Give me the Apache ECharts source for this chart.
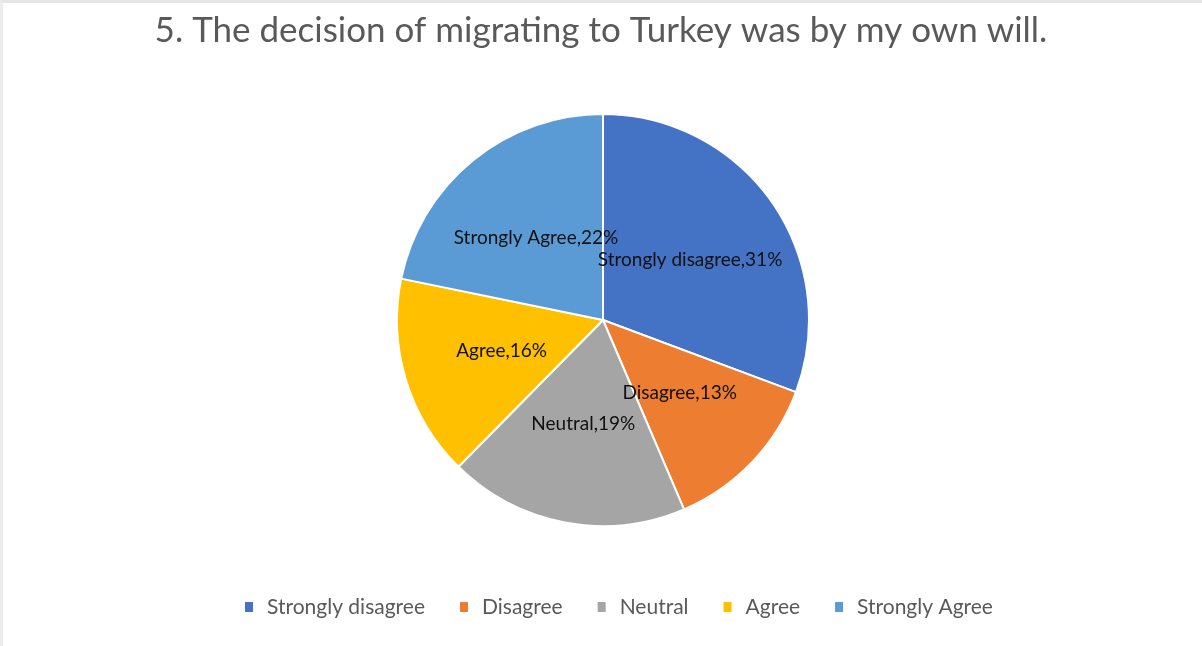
<!DOCTYPE html>
<html>
<head>
<meta charset="utf-8">
<script src="https://cdn.jsdelivr.net/npm/echarts@6/dist/echarts.min.js"></script>
<style>
  html, body { margin: 0; padding: 0; background: #fff; }
  #frame { position: absolute; left: 0; top: 0; width: 1202px; height: 646px; box-sizing: border-box;
           border-top: 3px solid #e6e6e6; border-left: 3px solid #ececec; }
  #chart { position: absolute; left: 0; top: 0; width: 1202px; height: 646px; }
</style>
</head>
<body>
<div id="frame"></div>
<div id="chart"></div>
<script>
// Survey responses for statement 5 (percent of respondents)
const categories = ['Strongly disagree', 'Disagree', 'Neutral', 'Agree', 'Strongly Agree'];
const percents = [31, 13, 19, 16, 22];
const colors = ['#4472C4', '#ED7D31', '#A5A5A5', '#FFC000', '#5B9BD5'];
const titleText = '5. The decision of migrating to Turkey was by my own will.';

const FONT = 'Lato, "Open Sans", sans-serif';

const chart = echarts.init(document.getElementById('chart'), null, { renderer: 'canvas' });
chart.setOption({
  animation: false,
  color: colors,
  title: {
    text: titleText,
    left: 'center',
    top: 8,
    textStyle: { fontFamily: FONT, fontSize: 35, fontWeight: 'normal', color: '#595959' }
  },
  legend: {
    top: 590,
    left: 238,
    itemWidth: 10,
    itemHeight: 12,
    itemGap: 33,
    icon: 'rect',
    textStyle: { fontFamily: FONT, fontSize: 21, lineHeight: 24, color: '#595959', padding: [0, 0, 0, 8] },
    data: categories
  },
  series: [{
    type: 'pie',
    center: [603, 320],
    radius: 206,
    startAngle: 90,
    clockwise: true,
    avoidLabelOverlap: false,
    itemStyle: { borderColor: '#fff', borderWidth: 2 },
    label: {
      show: true,
      position: 'inside',
      formatter: p => p.name + ',' + p.value + '%',
      fontFamily: FONT,
      fontSize: 19,
      color: '#111111'
    },
    labelLine: { show: false },
    emphasis: { disabled: true },
    data: categories.map((c, i) => ({ name: c, value: percents[i] }))
  }]
});
</script>
</body>
</html>
